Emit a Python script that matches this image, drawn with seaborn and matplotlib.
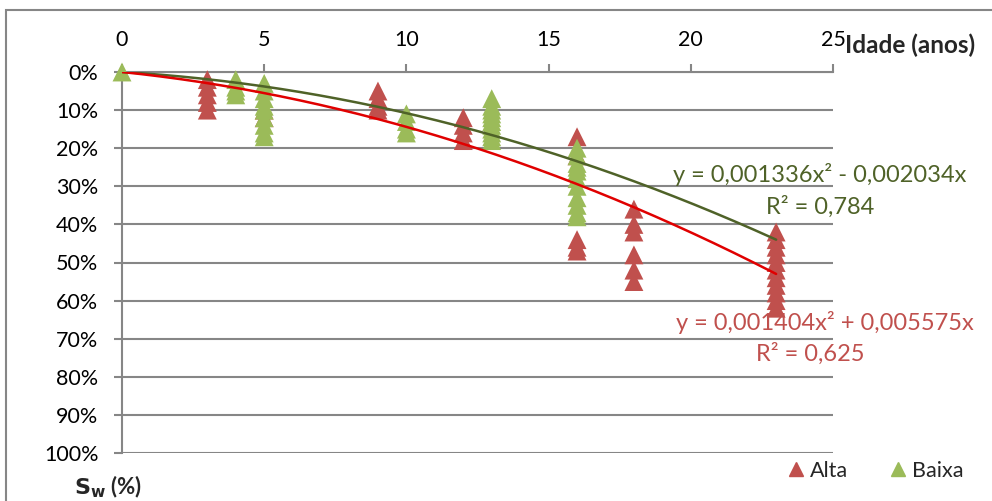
import numpy as np
import pandas as pd
import matplotlib
matplotlib.use("Agg")
import matplotlib.pyplot as plt
import seaborn as sns
from matplotlib.lines import Line2D
from matplotlib.patches import Rectangle
from matplotlib.ticker import PercentFormatter, MultipleLocator

# --- dados: idade (anos) e saturação Sw (%) por classe ---
idade_alta = [3, 3, 3, 3, 3,
              5, 5,
              9, 9, 9, 9,
              12, 12, 12, 12,
              16, 16, 16, 16, 16,
              18, 18, 18, 18, 18, 18,
              23, 23, 23, 23, 23, 23, 23, 23, 23, 23, 23]
sw_alta = [2, 4, 6, 8, 10,
           10, 12,
           5, 7, 9, 10,
           12, 14, 16, 18,
           17, 22, 44, 46, 47,
           36, 40, 42, 48, 52, 55,
           42, 44, 46, 48, 50, 52, 54, 56, 58, 60, 62]

idade_baixa = [0,
               4, 4, 4, 4,
               5, 5, 5, 5, 5, 5, 5, 5, 5,
               10, 10, 10, 10,
               13, 13, 13, 13, 13, 13, 13, 13, 13, 13, 13,
               16, 16, 16, 16, 16, 16, 16, 16, 16, 16, 16]
sw_baixa = [0,
            2, 4, 5, 6,
            3, 5, 7, 9, 10, 12, 14, 16, 17,
            11, 13, 15, 16,
            7, 9, 10, 11, 12, 13, 14, 15, 16, 17, 18,
            20, 22, 24, 25, 26, 28, 30, 33, 35, 37, 38]

# curvas de tendência polinomial (a*x^2 + b*x, em fração)
curva_alta = (0.000665, 0.00775)
curva_baixa = (0.000641, 0.00439)
idade_max = 23

eq_alta = ["y = 0,001404x² + 0,005575x", "R² = 0,625"]
eq_baixa = ["y = 0,001336x² - 0,002034x", "R² = 0,784"]

cor_alta = "#C0504D"
cor_baixa = "#9BBB59"
cor_tend_alta = "#E00000"
cor_tend_baixa = "#4F6228"
cinza = "#868686"

df = pd.concat([
    pd.DataFrame({"Idade": idade_alta, "Sw": np.array(sw_alta) / 100, "Classe": "Alta"}),
    pd.DataFrame({"Idade": idade_baixa, "Sw": np.array(sw_baixa) / 100, "Classe": "Baixa"}),
], ignore_index=True)

sns.set_theme(style="white")
plt.rcParams["font.family"] = ["Lato", "DejaVu Sans"]

W, H = 992, 501
fig = plt.figure(figsize=(W / 100, H / 100), dpi=100)


def fx(x):
    return x / W


def fy(y):
    return 1 - y / H


ax = fig.add_axes([fx(122), fy(453), fx(833) - fx(122), fy(72) - fy(453)])

sns.scatterplot(data=df, x="Idade", y="Sw", hue="Classe", hue_order=["Alta", "Baixa"],
                palette={"Alta": cor_alta, "Baixa": cor_baixa}, marker="^", s=185,
                linewidth=0, legend=False, ax=ax, zorder=3, clip_on=False)

xs = np.linspace(0, idade_max, 200)
for (a, b), cor in ((curva_baixa, cor_tend_baixa), (curva_alta, cor_tend_alta)):
    ax.plot(xs, a * xs ** 2 + b * xs, color=cor, lw=1.8, zorder=4)

ax.set_xlim(0, 25)
ax.set_ylim(1.0, 0.0)
ax.xaxis.tick_top()
ax.xaxis.set_major_locator(MultipleLocator(5))
ax.yaxis.set_major_locator(MultipleLocator(0.1))
ax.yaxis.set_major_formatter(PercentFormatter(1.0, decimals=0))
ax.set_xlabel("")
ax.set_ylabel("")
ax.grid(axis="y", color=cinza, lw=1.5)
ax.grid(axis="x", visible=False)
for s in ("right", "bottom"):
    ax.spines[s].set_visible(False)
for s in ("left", "top"):
    ax.spines[s].set_color(cinza)
    ax.spines[s].set_linewidth(1.5)
ax.tick_params(axis="x", top=True, bottom=False, direction="out", length=6, width=1.5,
               color=cinza, pad=10, labelsize=15.5, labelcolor="black")
ax.tick_params(axis="y", left=True, direction="out", length=6, width=1.5,
               color=cinza, pad=11, labelsize=15.5, labelcolor="black")

fig.text(fx(845), fy(45), "Idade (anos)", fontsize=17.5, fontweight="bold",
         ha="left", va="center")
fig.text(fx(108), fy(487), r"$\mathbf{S_w}$ (%)", fontsize=16, fontweight="bold",
         ha="center", va="center")

fig.text(fx(820), fy(175), eq_baixa[0], color=cor_tend_baixa, fontsize=17,
         ha="center", va="center")
fig.text(fx(820), fy(207), eq_baixa[1], color=cor_tend_baixa, fontsize=17,
         ha="center", va="center")
fig.text(fx(825), fy(323), eq_alta[0], color=cor_alta, fontsize=17,
         ha="center", va="center")
fig.text(fx(810), fy(354), eq_alta[1], color=cor_alta, fontsize=17,
         ha="center", va="center")

handles = [Line2D([], [], ls="", marker="^", markersize=10, color=cor_alta),
           Line2D([], [], ls="", marker="^", markersize=10, color=cor_baixa)]
fig.legend(handles, ["Alta", "Baixa"], ncol=2, loc="center",
           bbox_to_anchor=(fx(876), fy(471)), frameon=False, fontsize=15.5,
           handlelength=0.7, handletextpad=0.3, columnspacing=2.0)

fig.patches.append(Rectangle((fx(6), -0.2), 1.2, fy(10) + 0.2, transform=fig.transFigure,
                             fill=False, edgecolor=cinza, lw=1.5))

fig.savefig("out.png", dpi=100)
